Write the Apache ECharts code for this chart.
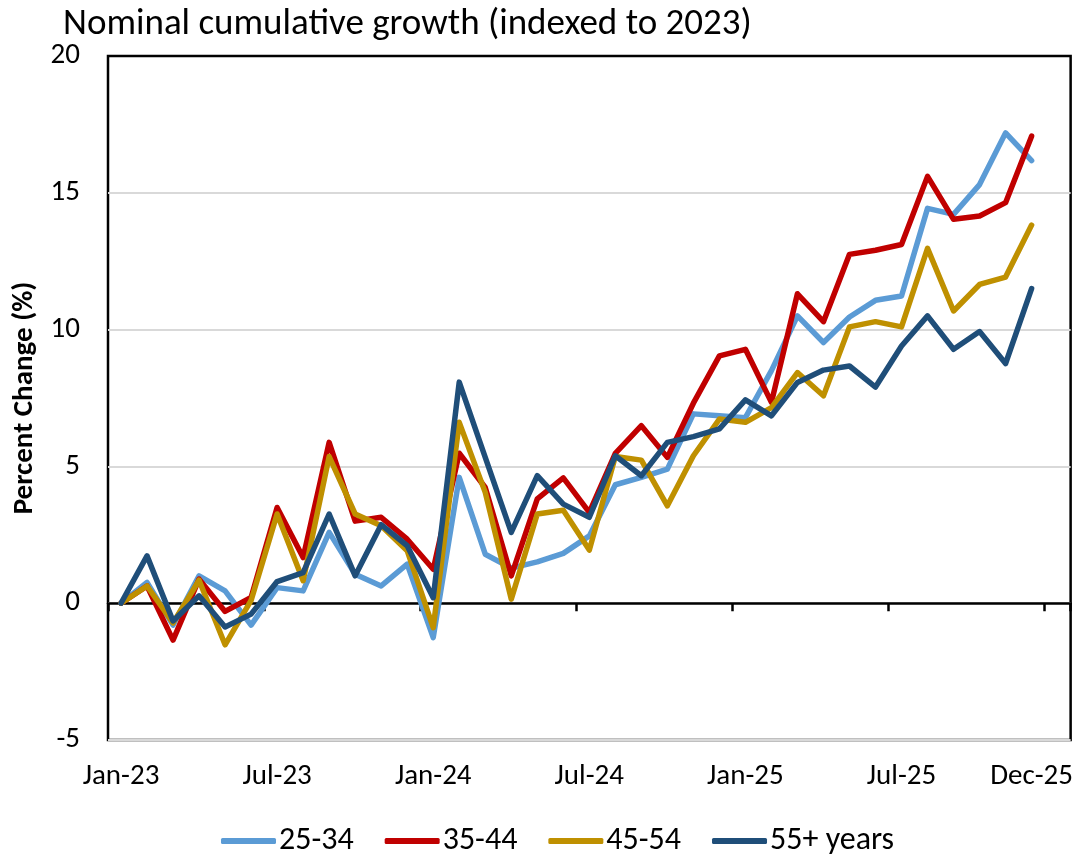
<!DOCTYPE html>
<html>
<head>
<meta charset="utf-8">
<title>Nominal cumulative growth</title>
<script src="https://cdn.jsdelivr.net/npm/echarts@6/dist/echarts.min.js"></script>
<style>
  html, body { margin: 0; padding: 0; background: #fff; }
  #main { width: 1076px; height: 855px; }
</style>
</head>
<body>
<div id="main"></div>
<script>
// month categories (last one is an empty slot, like the excel axis)
const months = [
  "Jan-23", "Feb-23", "Mar-23", "Apr-23", "May-23", "Jun-23",
  "Jul-23", "Aug-23", "Sep-23", "Oct-23", "Nov-23", "Dec-23",
  "Jan-24", "Feb-24", "Mar-24", "Apr-24", "May-24", "Jun-24",
  "Jul-24", "Aug-24", "Sep-24", "Oct-24", "Nov-24", "Dec-24",
  "Jan-25", "Feb-25", "Mar-25", "Apr-25", "May-25", "Jun-25",
  "Jul-25", "Aug-25", "Sep-25", "Oct-25", "Nov-25", "Dec-25",
  "Jan-26"
];

const age2534 = [0, 0.76, -0.8, 1.0, 0.45, -0.8, 0.57, 0.45, 2.59, 1.06, 0.63, 1.43,
  -1.26, 4.6, 1.79, 1.28, 1.51, 1.82, 2.46, 4.33, 4.6, 4.9, 6.92, 6.85,
  6.78, 8.5, 10.5, 9.53, 10.46, 11.07, 11.23, 14.43, 14.21, 15.3, 17.19, 16.18];

const age3544 = [0, 0.63, -1.35, 0.88, -0.3, 0.21, 3.5, 1.67, 5.88, 3.0, 3.14, 2.34,
  1.24, 5.48, 4.23, 1.0, 3.81, 4.58, 3.32, 5.48, 6.49, 5.33, 7.31, 9.04,
  9.28, 7.34, 11.31, 10.29, 12.75, 12.9, 13.11, 15.6, 14.03, 14.15, 14.64, 17.07];

const age4554 = [0, 0.63, -0.72, 0.84, -1.52, 0.1, 3.26, 0.82, 5.36, 3.26, 2.83, 1.92,
  -0.89, 6.61, 4.05, 0.15, 3.26, 3.4, 1.94, 5.36, 5.23, 3.56, 5.39, 6.73,
  6.61, 7.15, 8.43, 7.58, 10.1, 10.29, 10.1, 12.97, 10.68, 11.65, 11.92, 13.82];

const age55 = [0, 1.73, -0.65, 0.27, -0.87, -0.4, 0.79, 1.12, 3.26, 1.0, 2.87, 2.1,
  0.2, 8.08, 5.33, 2.59, 4.66, 3.62, 3.14, 5.39, 4.66, 5.88, 6.09, 6.37,
  7.43, 6.85, 8.07, 8.52, 8.67, 7.9, 9.4, 10.5, 9.28, 9.93, 8.76, 11.5];

const yTicks = { min: -5, max: 20, step: 5 };

const font = "Carlito, 'Liberation Sans Narrow', 'Noto Sans', sans-serif";

function lineSeries(name, data, color) {
  return {
    name: name,
    type: "line",
    data: data,
    symbol: "none",
    xAxisIndex: 0,
    lineStyle: { color: color, width: 5.5, cap: "round", join: "round" },
    itemStyle: { color: color },
  };
}

const chart = echarts.init(document.getElementById("main"));

chart.setOption({
  animation: false,
  textStyle: { fontFamily: font },
  title: {
    text: "Nominal cumulative growth (indexed to 2023)",
    left: 58,
    top: 1,
    textStyle: { fontFamily: font, fontSize: 37, fontWeight: "normal", color: "#000" },
  },
  grid: {
    left: 108,
    right: 5,
    top: 56,
    bottom: 115,
    show: true,
    borderColor: "#000",
    borderWidth: 2.5,
  },
  legend: {
    top: 820,
    left: 216,
    icon: "roundRect",
    itemWidth: 55,
    itemHeight: 6,
    itemGap: 31,
    textStyle: { fontFamily: font, fontSize: 32, color: "#000", padding: [0, 0, 0, -2] },
    data: ["25-34", "35-44", "45-54", "55+ years"],
  },
  xAxis: [
    {
      // axis line + ticks sitting on zero
      type: "category",
      data: months,
      boundaryGap: true,
      position: "bottom",
      axisLine: { onZero: true, lineStyle: { color: "#000", width: 2.5 } },
      axisTick: {
        show: true,
        interval: (i) => i % 6 === 0,
        length: 8,
        lineStyle: { color: "#000", width: 2.5 },
      },
      axisLabel: { show: false },
      splitLine: { show: false },
    },
    {
      // labels at the bottom of the plot
      type: "category",
      data: months,
      boundaryGap: true,
      position: "bottom",
      axisLine: { show: false, onZero: false },
      axisTick: { show: false },
      axisLabel: {
        interval: (i) => (i % 6 === 0 && i < 35) || i === 35,
        margin: 22,
        fontSize: 29,
        color: "#000",
        fontFamily: font,
      },
      splitLine: { show: false },
    },
  ],
  yAxis: {
    type: "value",
    min: yTicks.min,
    max: yTicks.max,
    interval: yTicks.step,
    name: "Percent Change (%)",
    nameLocation: "middle",
    nameGap: 62,
    nameTextStyle: { fontFamily: font, fontSize: 29, fontWeight: "bold", color: "#000" },
    axisLine: { show: false },
    axisTick: { show: false },
    axisLabel: { fontSize: 29, color: "#000", margin: 28, fontFamily: font },
    splitLine: {
      show: true,
      showMaxLine: false,
      lineStyle: { color: "#d9d9d9", width: 2 },
    },
  },
  series: [
    lineSeries("25-34", age2534, "#5b9bd5"),
    lineSeries("35-44", age3544, "#c00000"),
    lineSeries("45-54", age4554, "#bf9000"),
    lineSeries("55+ years", age55, "#1f4e79"),
  ],
});
</script>
</body>
</html>
